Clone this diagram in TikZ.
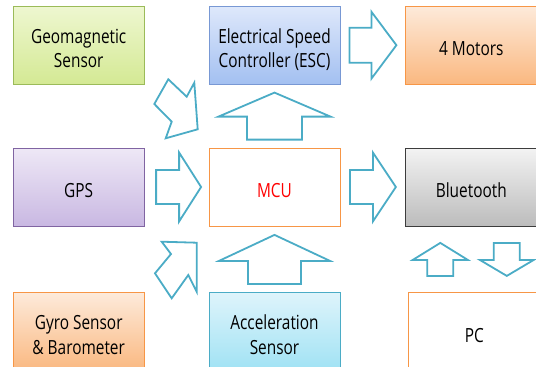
\documentclass[tikz,border=0pt]{standalone}
\usepackage{fontspec}
\setmainfont{Open Sans}
\usepackage{graphicx}
\usetikzlibrary{positioning, calc, shadows}

\definecolor{arrowteal}{RGB}{75,172,198}
\definecolor{greentop}{RGB}{238,247,208}
\definecolor{greenbot}{RGB}{212,233,148}
\definecolor{greenedge}{RGB}{155,187,89}
\definecolor{bluetop}{RGB}{222,232,251}
\definecolor{bluebot}{RGB}{163,192,241}
\definecolor{blueedge}{RGB}{120,152,212}
\definecolor{orangetop}{RGB}{253,234,218}
\definecolor{orangebot}{RGB}{250,184,128}
\definecolor{orangeedge}{RGB}{247,150,70}
\definecolor{purpletop}{RGB}{238,232,246}
\definecolor{purplebot}{RGB}{201,184,226}
\definecolor{purpleedge}{RGB}{128,100,162}
\definecolor{graytop}{RGB}{243,243,243}
\definecolor{graybot}{RGB}{188,188,188}
\definecolor{grayedge}{RGB}{60,60,60}
\definecolor{cyantop}{RGB}{222,244,251}
\definecolor{cyanbot}{RGB}{160,226,244}
\definecolor{cyanedge}{RGB}{75,172,198}

% narrow label, set a little below the centre
\newcommand{\lbl}[1]{\raisebox{-5.5pt}[\height][\depth]{\scalebox{0.79}[1]{\begin{tabular}{@{}c@{}}#1\end{tabular}}}}

\begin{document}
\begin{tikzpicture}[
  x=1pt, y=-1pt,
  node distance=63pt and 64pt,
  box/.style={rectangle, draw, line width=0.8pt,
              minimum width=131pt, minimum height=78pt, inner sep=0pt,
              font=\fontsize{19.5}{24.5}\selectfont,
              drop shadow={shadow xshift=0.8pt, shadow yshift=-1.2pt, opacity=0.3}},
  greenbox/.style={box, draw=greenedge, top color=greentop, bottom color=greenbot},
  bluebox/.style={box, draw=blueedge, top color=bluetop, bottom color=bluebot},
  orangebox/.style={box, draw=orangeedge, top color=orangetop, bottom color=orangebot},
  purplebox/.style={box, draw=purpleedge, top color=purpletop, bottom color=purplebot},
  graybox/.style={box, draw=grayedge, top color=graytop, bottom color=graybot},
  cyanbox/.style={box, draw=cyanedge, top color=cyantop, bottom color=cyanbot},
  whitebox/.style={box, draw=orangeedge, fill=white},
  blockarrow/.style={draw=arrowteal, line width=1.8pt, fill=white, line join=miter},
  pics/blkarrow/.style n args={4}{code={%
    \draw[blockarrow] (-#1/2,-#4) -- (#1/2-#2,-#4) -- (#1/2-#2,-#3) -- (#1/2,0)
      -- (#1/2-#2,#3) -- (#1/2-#2,#4) -- (-#1/2,#4) -- cycle;}},
]
\useasboundingbox (0,0) rectangle (536,367);
\clip (0,0) rectangle (536,367);
\node[whitebox, text=red] (mcu) at (274.5,187) {\lbl{MCU}};
\node[purplebox, left=of mcu]      (gps)    {\lbl{GPS}};
\node[graybox, right=65pt of mcu]  (bt)     {\lbl{Bluetooth}};
\node[bluebox, above=of mcu]       (esc)    {\lbl{Electrical Speed\\Controller (ESC)}};
\node[greenbox, above=of gps]      (geo)    {\lbl{Geomagnetic\\Sensor}};
\node[orangebox, above=of bt]      (motors) {\lbl{4 Motors}};
\node[cyanbox, below=66pt of mcu]  (accel)  {\lbl{Acceleration\\Sensor}};
\node[orangebox, below=66pt of gps] (gyro)  {\lbl{Gyro Sensor\\\& Barometer}};
\node[whitebox, below=66pt of bt, xshift=3pt] (pc) {\lbl{PC}};
% block arrows
\pic[xshift=2pt] at ($(gps.east)!0.5!(mcu.west)$) {blkarrow={45}{22}{34.5}{17}};
\pic at ($(mcu.east)!0.5!(bt.west)$)      {blkarrow={46}{23}{34.5}{17}};
\pic at ($(esc.east)!0.5!(motors.west)$)  {blkarrow={47}{25}{33.5}{17.5}};
\pic[rotate=90] at ($(mcu.north)!0.5!(esc.south)$)  {blkarrow={47}{24}{56}{27.5}};
\pic[rotate=90] at ($(accel.north)!0.5!(mcu.south)$) {blkarrow={49}{26}{55.5}{26.5}};
\pic[rotate=90] at ($(bt.south)!0.5!(pc.north)+(-32.5,0)$) {blkarrow={33}{17}{27.5}{13}};
\pic[rotate=-90] at ($(bt.south)!0.5!(pc.north)+(34,0)$)  {blkarrow={33}{16}{27}{13}};
% diagonal arrows
\draw[blockarrow] (168.3,79.3) -- (186.7,96.7) -- (194.3,82.7) -- (197.7,129.3)
  -- (165.7,138.3) -- (171.7,121.7) -- (154.3,104) -- cycle;
\draw[blockarrow] (196.7,242.7) -- (196.7,291.7) -- (188.3,275) -- (171.7,298.3)
  -- (155,273.3) -- (171,254) -- (161.7,241.7) -- cycle;
\end{tikzpicture}
\end{document}
